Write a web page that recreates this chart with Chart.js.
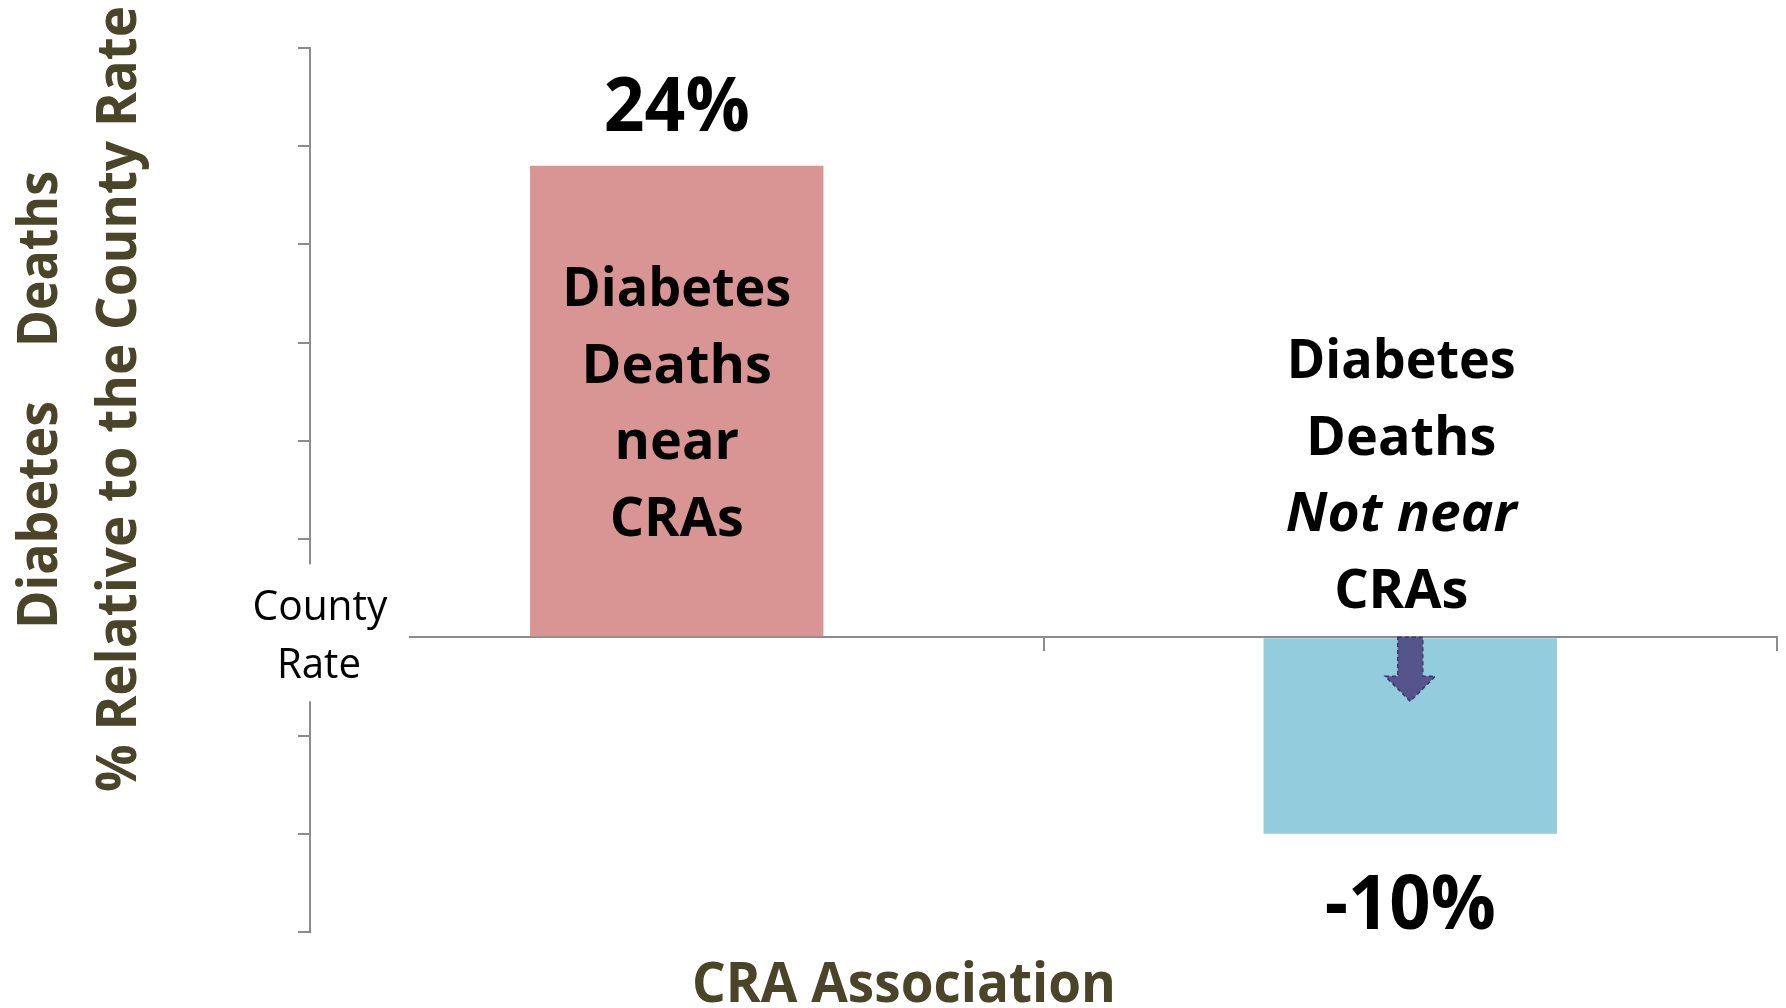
<!DOCTYPE html>
<html>
<head>
<meta charset="utf-8">
<title>CRA Association</title>
<script src="https://cdn.jsdelivr.net/npm/chart.js"></script>
<style>
  html, body { margin: 0; padding: 0; background: #fff; }
  #wrap { width: 1786px; height: 1008px; }
</style>
</head>
<body>
<div id="wrap"><canvas id="craChart" width="1786" height="1008"></canvas></div>
<script>
// ---------- DATA ----------
const categories = ['Diabetes Deaths near CRAs', 'Diabetes Deaths Not near CRAs'];
const pctVsCounty = [24, -10];
const valueLabels = ['24%', '-10%'];
const barLabelLines = [
  ['Diabetes', 'Deaths', 'near', 'CRAs'],
  ['Diabetes', 'Deaths', 'Not near', 'CRAs']
];
const italicLines = [[], ['Not near']];
const yMin = -15, yMax = 30, yStep = 5;

const barColors = ['#d99594', '#93cddd'];
const axisGrey = '#8c8c8c';
const titleColor = '#4a4429';
const FONT = '"Open Sans", "DejaVu Sans", sans-serif';

// draw text squeezed into a max width if needed (or stretched when exact)
function fitText(ctx, text, x, y, maxW, exact) {
  const w = ctx.measureText(text).width;
  if (w > maxW || exact) {
    ctx.save();
    ctx.translate(x, y);
    ctx.scale(maxW / w, 1);
    ctx.fillText(text, 0, 0);
    ctx.restore();
  } else {
    ctx.fillText(text, x, y);
  }
}

/* ---------- ANNOTATIONS ---------- */
const annotations = {
  id: 'annotations',
  afterDraw(chart) {
    const ctx = chart.ctx;
    const x = chart.scales.x;
    const y = chart.scales.y;
    const zero = y.getPixelForValue(0);
    const bars = chart.getDatasetMeta(0).data;

    ctx.save();
    ctx.textAlign = 'center';
    ctx.textBaseline = 'alphabetic';

    // "County Rate" box covers the axes crossing
    ctx.fillStyle = '#fff';
    ctx.fillRect(x.left - 70, zero - 73, 99 + 70, 137);
    ctx.fillStyle = '#000';
    ctx.font = '400 42px ' + FONT;
    fitText(ctx, 'County', x.left + 10, zero - 17, 135);
    fitText(ctx, 'Rate', x.left + 9, zero + 41, 84);

    // value labels
    ctx.font = '700 76px ' + FONT;
    pctVsCounty.forEach((v, i) => {
      const b = bars[i];
      const yy = v >= 0 ? y.getPixelForValue(v) - 35 : y.getPixelForValue(v) + 95;
      fitText(ctx, valueLabels[i], b.x, yy, v >= 0 ? 146 : 171, true);
    });

    // category text in / above the bars
    const firstBase = [zero - 331, zero - 259];
    const shiftX = [0, -9];
    barLabelLines.forEach((lines, i) => {
      const b = bars[i];
      lines.forEach((t, k) => {
        const it = italicLines[i].includes(t);
        ctx.font = (it ? 'italic ' : '') + '700 54px ' + FONT;
        fitText(ctx, t, b.x + shiftX[i], firstBase[i] + k * 76.5, it ? 231 : 229, it);
      });
    });

    // down arrow on the negative bar
    const ab = bars[1];
    ctx.beginPath();
    ctx.moveTo(ab.x - 12.5, zero);
    ctx.lineTo(ab.x + 12.5, zero);
    ctx.lineTo(ab.x + 12.5, zero + 39);
    ctx.lineTo(ab.x + 25, zero + 39);
    ctx.lineTo(ab.x, zero + 64);
    ctx.lineTo(ab.x - 25, zero + 39);
    ctx.lineTo(ab.x - 12.5, zero + 39);
    ctx.closePath();
    ctx.fillStyle = '#55558b';
    ctx.fill();
    ctx.setLineDash([4, 3]);
    ctx.lineWidth = 1.5;
    ctx.strokeStyle = '#38386a';
    ctx.stroke();
    ctx.setLineDash([]);

    // axis titles
    ctx.fillStyle = titleColor;
    ctx.font = '700 56px ' + FONT;
    fitText(ctx, 'CRA Association', 904, chart.height - 6, 424);

    const mid = (y.top + y.bottom) / 2 - 90;
    ctx.save();
    ctx.translate(57, 0);
    ctx.rotate(-Math.PI / 2);
    fitText(ctx, 'Diabetes', -(mid + 115), 0, 228);
    fitText(ctx, 'Deaths', -(mid - 141), 0, 176);
    ctx.restore();
    ctx.save();
    ctx.translate(136, 0);
    ctx.rotate(-Math.PI / 2);
    fitText(ctx, '% Relative to the County Rate', -(mid - 1), 0, 786);
    ctx.restore();

    ctx.restore();
  }
};

new Chart(document.getElementById('craChart'), {
  type: 'bar',
  data: {
    labels: categories,
    datasets: [{
      data: pctVsCounty,
      backgroundColor: barColors,
      borderWidth: 0,
      categoryPercentage: 0.4,
      barPercentage: 1.0
    }]
  },
  options: {
    responsive: false,
    animation: false,
    devicePixelRatio: 1,
    layout: { padding: { left: 298, right: 9, top: 48, bottom: 76 } },
    plugins: {
      legend: { display: false },
      tooltip: { enabled: false }
    },
    scales: {
      x: {
        position: { y: 0 },
        ticks: { display: false },
        grid: {
          offset: true,
          drawOnChartArea: false,
          drawTicks: true,
          tickLength: 13,
          color: axisGrey,
          lineWidth: 2
        },
        border: { color: axisGrey, width: 2 }
      },
      y: {
        min: yMin,
        max: yMax,
        ticks: { display: false, stepSize: yStep },
        grid: {
          drawOnChartArea: false,
          drawTicks: true,
          tickLength: 12,
          color: axisGrey,
          lineWidth: 2
        },
        border: { color: axisGrey, width: 2 }
      }
    }
  },
  plugins: [annotations]
});
</script>
</body>
</html>
